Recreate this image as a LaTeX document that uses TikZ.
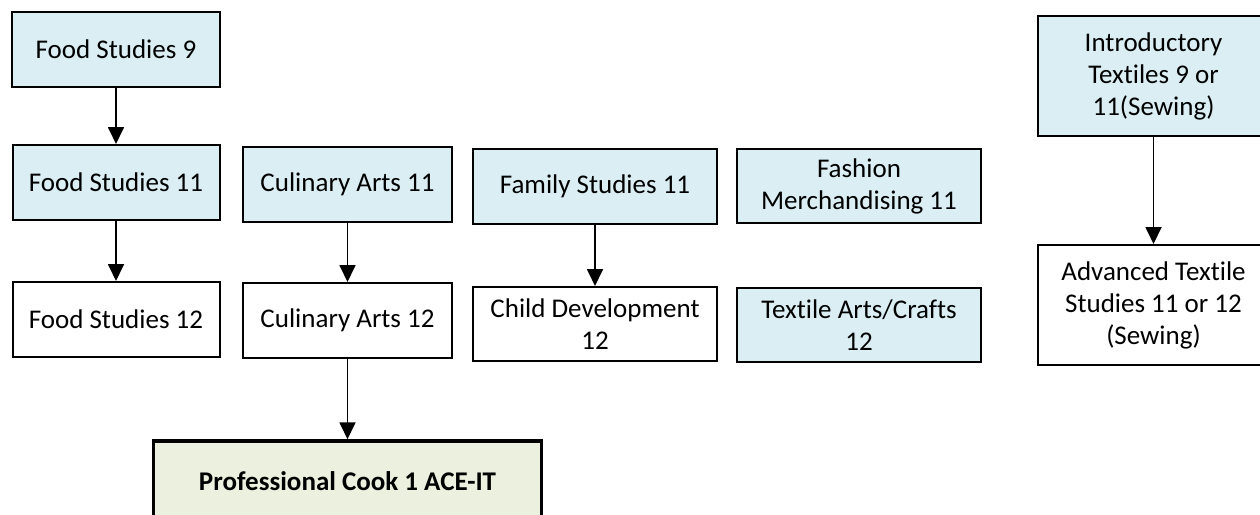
\documentclass[tikz,border=0pt]{standalone}
\usepackage{fontspec}
\setmainfont{Carlito}[Ligatures=NoCommon]
\usetikzlibrary{arrows.meta}
\definecolor{paleblue}{HTML}{DAEEF3}
\definecolor{palegreen}{HTML}{EBF1DE}
\tikzset{
  course/.style={draw=black, line width=2pt, rectangle, align=center,
    inner sep=0pt, font=\fontsize{27}{32}\selectfont},
  core/.style={course, fill=paleblue},
  senior/.style={course, fill=white},
  career/.style={course, fill=palegreen, line width=3.5pt,
    font=\fontsize{27}{32}\selectfont\bfseries},
  link/.style={draw=black, line width=1.8pt,
    -{Triangle[width=16pt,length=17pt]}},
}
\begin{document}
\begin{tikzpicture}[x=1pt, y=-1pt]
\useasboundingbox (0,0) rectangle (1260,514);

% food studies column
\node[core, minimum width=208pt, minimum height=75pt] (fs9) at (116,49.5) {Food Studies 9};
\node[core, minimum width=207pt, minimum height=75pt] (fs11) at (116,182.5) {Food Studies 11};
\node[senior, minimum width=207pt, minimum height=75pt] (fs12) at (116,319.5) {Food Studies 12};

% culinary arts column
\node[core, minimum width=209pt, minimum height=75pt] (ca11) at (347.5,184.5) {Culinary Arts 11};
\node[senior, minimum width=209pt, minimum height=75pt] (ca12) at (347.5,320.5) {Culinary Arts 12};
\node[career, minimum width=388pt, minimum height=80pt] (pc) at (347.5,481) {Professional Cook 1 ACE-IT};

% family studies and fashion
\node[core, minimum width=244pt, minimum height=75pt] (fam11) at (595,186) {Family Studies 11};
\node[core, minimum width=244pt, minimum height=74pt] (fash11) at (859,186) {Fashion\\Merchandising 11};
\node[senior, minimum width=244pt, minimum height=74pt] (cd12) at (595,324) {Child Development\\12};
\node[core, minimum width=244pt, minimum height=74pt] (ta12) at (859,325) {Textile Arts/Crafts\\12};

% textiles column
\node[core, minimum width=231pt, minimum height=120pt] (tx9) at (1153.5,76) {Introductory\\Textiles 9 or\\11(Sewing)};
\node[senior, minimum width=231pt, minimum height=120pt] (tx12) at (1153.5,305) {Advanced Textile\\Studies 11 or 12\\(Sewing)};

% prerequisite links
\draw[link] (fs9.south) -- (fs11.north);
\draw[link] (fs11.south) -- (fs12.north);
\draw[link] (ca11.south) -- (ca12.north);
\draw[link] (ca12.south) -- (pc.north);
\draw[link] (fam11.south) -- (cd12.north);
\draw[link] (tx9.south) -- (tx12.north);
\end{tikzpicture}
\end{document}
